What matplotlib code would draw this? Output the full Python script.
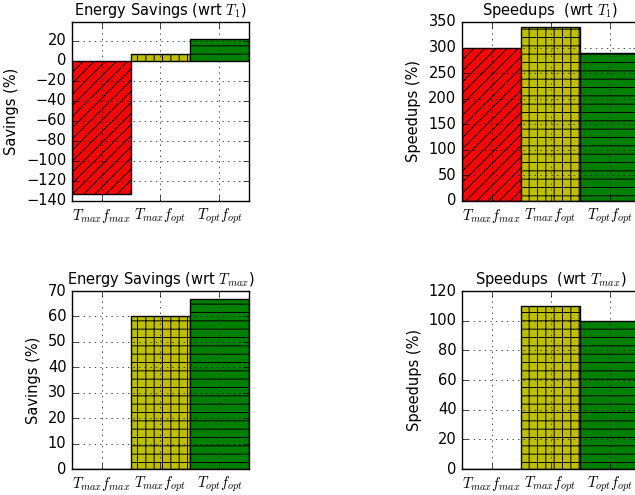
import matplotlib
matplotlib.use("Agg")
import matplotlib.pyplot as plt

plt.style.use("classic")
plt.rcParams["font.size"] = 10.5
plt.rcParams["hatch.linewidth"] = 0.7

configs = [r"$T_{max}f_{max}$", r"$T_{max}f_{opt}$", r"$T_{opt}f_{opt}$"]
colors = ["r", "y", "g"]
hatches = ["///", "++", "--"]

savings_t1 = [-133, 7, 22]
speedups_t1 = [300, 340, 290]
savings_tmax = [0, 60, 67]
speedups_tmax = [0, 110, 100]

panels = [
    # (values, title, ylabel, ylim, rect)
    (savings_t1, r"Energy Savings (wrt $T_1$)", "Savings (%)", (-140, 39),
     [0.1134, 0.594, 0.2787, 0.3616]),
    (speedups_t1, r"Speedups  (wrt $T_1$)", "Speedups (%)", (0, 350),
     [0.7276, 0.594, 0.2787, 0.3616]),
    (savings_tmax, r"Energy Savings (wrt $T_{max}$)", "Savings (%)", (0, 70),
     [0.1134, 0.0525, 0.2787, 0.3596]),
    (speedups_tmax, r"Speedups  (wrt $T_{max}$)", "Speedups (%)", (0, 120),
     [0.7276, 0.0525, 0.2787, 0.3596]),
]


def draw_panel(fig, values, title, ylabel, ylim, rect):
    ax = fig.add_axes(rect)
    x = range(len(values))
    for i, v in enumerate(values):
        ax.bar(i, v, width=1.0, align="center", color=colors[i],
               hatch=hatches[i], edgecolor="k", linewidth=1.0)
    ax.set_xlim(-0.5, len(values) - 0.5)
    ax.set_ylim(*ylim)
    ax.set_xticks(list(x))
    ax.set_xticklabels(configs, fontsize=10.5)
    ax.tick_params(axis="y", labelsize=10.5)
    ax.set_ylabel(ylabel, fontsize=10.5)
    ax.set_title(title, fontsize=10.5)
    ax.grid(True)
    ax.set_axisbelow(False)
    return ax


fig = plt.figure(figsize=(6.35, 4.95), dpi=100, facecolor="white")
for values, title, ylabel, ylim, rect in panels:
    draw_panel(fig, values, title, ylabel, ylim, rect)

fig.savefig("out.png", dpi=100, facecolor="white")
